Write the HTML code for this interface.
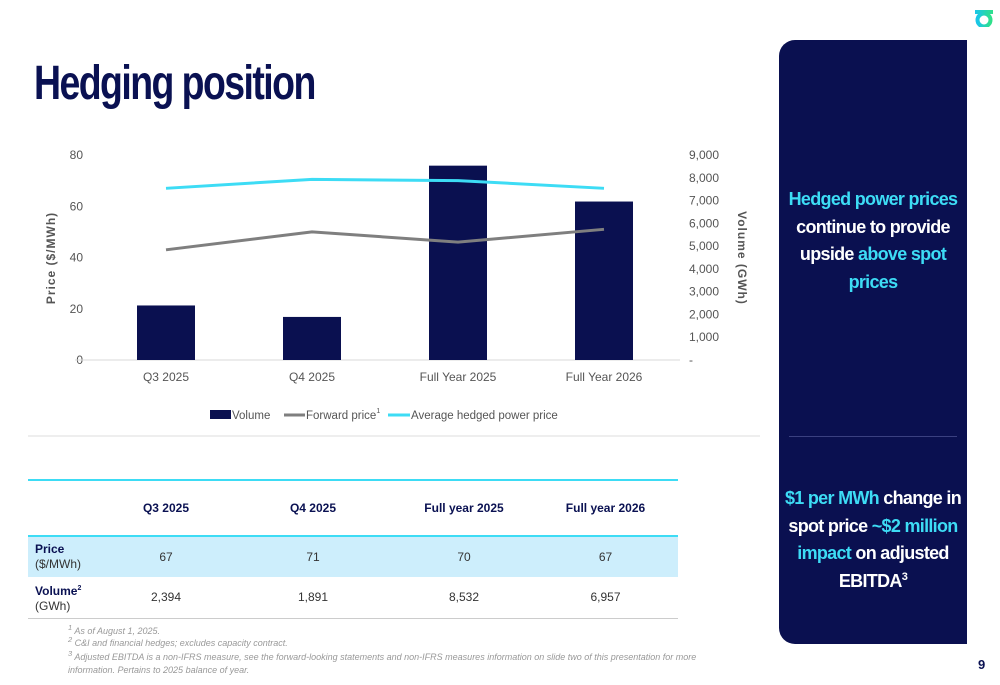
<!DOCTYPE html>
<html><head><meta charset="utf-8">
<style>
body{margin:0;width:1000px;height:685px;background:#fff;position:relative;overflow:hidden;font-family:"Liberation Sans",sans-serif;}
.abs{position:absolute;}
#title{left:34px;top:56px;font-size:48px;font-weight:bold;color:#0a1152;letter-spacing:-2px;transform:scaleX(0.78);transform-origin:left top;white-space:nowrap;}
#panel{left:779px;top:40px;width:188px;height:604px;background:#0a1050;border-radius:16px 0 0 16px;}
.ptxt{position:absolute;left:4px;width:180px;text-align:center;font-weight:bold;color:#fff;font-size:18px;line-height:27.5px;letter-spacing:-0.7px;}
.cy{color:#3ddcf5;}
table{border-collapse:collapse;table-layout:fixed;}
.foot{font-size:9px;color:#999;font-style:italic;left:68px;}
</style></head><body>
<div id="logo" class="abs" style="left:975px;top:10px;width:18px;height:17px;">
<svg width="18" height="17"><defs><linearGradient id="lg" x1="0" x2="1"><stop offset="0" stop-color="#19c6e8"/><stop offset="1" stop-color="#2fe08a"/></linearGradient></defs><rect x="0" y="0" width="18" height="4" fill="url(#lg)"/><circle cx="9" cy="10" r="6.5" fill="none" stroke="url(#lg)" stroke-width="4"/></svg></div>
<div id="title" class="abs">Hedging position</div>

<svg class="abs" style="left:0;top:0" width="770" height="440" id="chart">
<line x1="28" y1="436" x2="760" y2="436" stroke="#ddd" stroke-width="1"/>
<text transform="translate(55,258) rotate(-90)" text-anchor="middle" font-size="12" font-weight="bold" fill="#555" letter-spacing="1">Price ($/MWh)</text>
<text transform="translate(738,258) rotate(90)" text-anchor="middle" font-size="12" font-weight="bold" fill="#555" letter-spacing="1">Volume (GWh)</text>
<g id="g"></g>
<g>
<rect x="210" y="410" width="21" height="9" fill="#0a1050"/>
<text x="232" y="419" font-size="11.5" fill="#555">Volume</text>
<line x1="284" y1="415" x2="305" y2="415" stroke="#7f7f7f" stroke-width="3"/>
<text x="306" y="419" font-size="11.5" fill="#555">Forward price<tspan font-size="7" dy="-6">1</tspan></text>
<line x1="388" y1="415" x2="410" y2="415" stroke="#3ddcf5" stroke-width="3"/>
<text x="411" y="419" font-size="11.5" fill="#555">Average hedged power price</text>
</g>
</svg>

<div class="abs" style="left:28px;top:479px;width:650px;">
<table style="width:650px;font-size:12px;color:#0a1152;">
<colgroup><col style="width:90px"><col style="width:96px"><col style="width:198px"><col style="width:104px"><col style="width:162px"></colgroup>
<tr style="height:56px;border-top:2px solid #3ddcf5;border-bottom:2px solid #3ddcf5;font-weight:bold;">
<td></td><td style="text-align:center">Q3 2025</td><td style="text-align:center">Q4 2025</td><td style="text-align:center">Full year 2025</td><td style="text-align:center;padding-left:18px">Full year 2026</td></tr>
<tr style="height:41px;background:#cdeefc;color:#333;">
<td style="padding-left:7px;line-height:15px"><b style="color:#0a1152">Price</b><br>($/MWh)</td><td style="text-align:center">67</td><td style="text-align:center">71</td><td style="text-align:center">70</td><td style="text-align:center;padding-left:18px">67</td></tr>
<tr style="height:41px;color:#333;border-bottom:1px solid #ccc;">
<td style="padding-left:7px;line-height:15px"><b style="color:#0a1152">Volume<sup style="font-size:7px">2</sup></b><br>(GWh)</td><td style="text-align:center">2,394</td><td style="text-align:center">1,891</td><td style="text-align:center">8,532</td><td style="text-align:center;padding-left:18px">6,957</td></tr>
</table></div>

<div class="abs foot" style="top:623px"><sup>1</sup> As of August 1, 2025.</div>
<div class="abs foot" style="top:635px"><sup>2</sup> C&amp;I and financial hedges; excludes capacity contract.</div>
<div class="abs foot" style="top:647px;width:640px;line-height:13px"><sup>3</sup> Adjusted EBITDA is a non-IFRS measure, see the forward-looking statements and non-IFRS measures information on slide two of this presentation for more information. Pertains to 2025 balance of year.</div>

<div id="panel" class="abs">
<div class="ptxt" style="top:146px"><span class="cy">Hedged power prices</span> continue to provide upside <span class="cy">above spot prices</span></div>
<div style="position:absolute;left:10px;top:396px;width:168px;height:1px;background:#3a4080"></div>
<div class="ptxt" style="top:445px"><span class="cy">$1 per MWh</span> change in spot price <span class="cy">~$2 million impact</span> on adjusted EBITDA<sup style="font-size:11px;line-height:0">3</sup></div>
</div>
<div class="abs" style="left:978px;top:657px;font-size:13px;font-weight:bold;color:#0a1152">9</div>

<script>
const categories=["Q3 2025","Q4 2025","Full Year 2025","Full Year 2026"];
const volume=[2394,1891,8532,6957];
const forwardPrice=[43,50,46,51];
const hedgedPrice=[67,70.5,70,67];
const priceTicks=[0,20,40,60,80];
const volumeTicks=[0,1000,2000,3000,4000,5000,6000,7000,8000,9000];
const NS="http://www.w3.org/2000/svg";
const g=document.getElementById('g');
const y0=360,yTop=155,x0=93,band=146;
const yP=v=>y0-(v/80)*(y0-yTop);
const yV=v=>y0-(v/9000)*(y0-yTop);
const xC=i=>x0+band*(i+0.5);
function mk(t,a){const e=document.createElementNS(NS,t);for(const k in a)e.setAttribute(k,a[k]);g.appendChild(e);return e;}
priceTicks.forEach(v=>{const t=mk('text',{x:83,y:yP(v)+4,'text-anchor':'end','font-size':12,fill:'#555'});t.textContent=v;

});
volumeTicks.forEach(v=>{const t=mk('text',{x:689,y:yV(v)+4,'font-size':12,fill:'#555'});t.textContent=v===0?'-':v.toLocaleString('en-US');

});
const ax=mk('line',{x1:75,y1:y0,x2:680,y2:y0,stroke:'#d9d9d9','stroke-width':1});


categories.forEach((c,i)=>{
const r=mk('rect',{x:xC(i)-29,y:yV(volume[i]),width:58,height:y0-yV(volume[i]),fill:'#0a1050'});


const t=mk('text',{x:xC(i),y:381,'text-anchor':'middle','font-size':12,fill:'#555'});t.textContent=c;


});
function line(arr,col,name){const p=mk('polyline',{points:arr.map((v,i)=>xC(i)+','+yP(v)).join(' '),fill:'none',stroke:col,'stroke-width':3});

}
line(forwardPrice,'#7f7f7f','forward-price-line');
line(hedgedPrice,'#3ddcf5','hedged-price-line');
</script>
</body></html>
